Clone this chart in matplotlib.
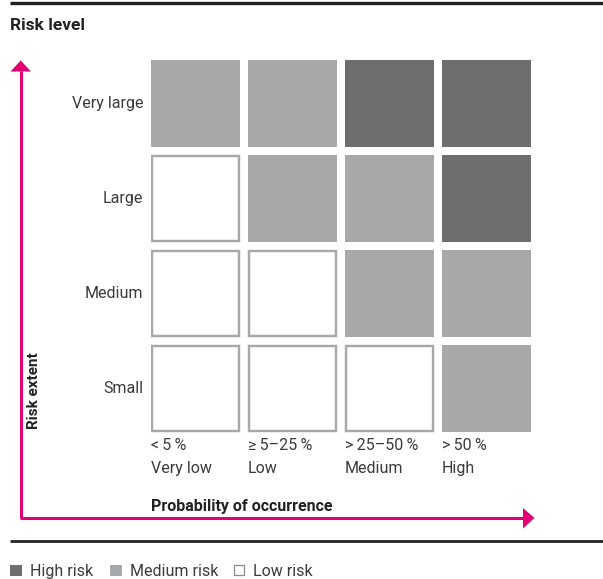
import matplotlib
matplotlib.use("Agg")
import matplotlib.pyplot as plt
from matplotlib.patches import Rectangle, Polygon
import numpy as np

plt.rcParams['font.family'] = ['Roboto', 'DejaVu Sans']

# ---- data ----
row_labels = ["Very large", "Large", "Medium", "Small"]
col_pct = ["<\u20095\u2009%", "≥\u20095–25\u2009%", ">\u200925–50\u2009%", ">\u200950\u2009%"]
col_names = ["Very low", "Low", "Medium", "High"]
# risk level per cell (rows top->bottom, cols left->right): 2=high,1=medium,0=low
risk = [
    [1, 1, 2, 2],
    [0, 1, 1, 2],
    [0, 0, 1, 1],
    [0, 0, 0, 1],
]
legend_labels = ["High risk", "Medium risk", "Low risk"]

HIGH = "#6d6e70"
MED = "#a7a8aa"
MAG = "#e20074"
TXT = "#3a3a3a"
FS = 11.5
WT = "normal"

W, H = 603, 579
fig = plt.figure(figsize=(W / 100, H / 100), dpi=100)

bg = fig.add_axes([0, 0, 1, 1])
bg.set_xlim(0, W)
bg.set_ylim(H, 0)
bg.axis("off")

pitch_x, pitch_y = 97, 95
gx0, gy0 = 151, 60
ax = fig.add_axes([gx0 / W, 1 - (gy0 + 4 * pitch_y) / H, 4 * pitch_x / W, 4 * pitch_y / H])
ax.set_xlim(0, 4)
ax.set_ylim(4, 0)
ax.axis("off")
cw = 89 / pitch_x
ch = 87 / pitch_y

colors = {2: HIGH, 1: MED}
for r, row in enumerate(risk):
    for c, v in enumerate(row):
        if v > 0:
            ax.add_patch(Rectangle((c, r), cw, ch, facecolor=colors[v], edgecolor="none"))
        else:
            dx = 1.2 / pitch_x
            dy = 1.2 / pitch_y
            ax.add_patch(Rectangle((c + dx, r + dy), cw - 2 * dx, ch - 2 * dy,
                                   facecolor="white", edgecolor=MED, linewidth=1.75))

for r, lab in enumerate(row_labels):
    ax.text(-8 / pitch_x, r + ch / 2, lab, ha="right", va="center",
            fontsize=FS, color=TXT, fontweight=WT)

base = gy0 + 4 * pitch_y
for c, (p, n) in enumerate(zip(col_pct, col_names)):
    ax.text(c, 4 + (445.5 - base) / pitch_y, p, ha="left",
            va="center", fontsize=FS, color=TXT, fontweight=WT)
    ax.text(c, 4 + (469 - base) / pitch_y, n, ha="left", va="center",
            fontsize=FS, color=TXT, fontweight=WT)

bg.text(10, 26, "Risk level", ha="left", va="center", fontsize=12.5, fontweight="bold", color="#222222")
bg.text(151, 506, "Probability of occurrence", ha="left", va="center", fontsize=11.5,
        fontweight="bold", color="#222222")
bg.text(34, 391, "Risk extent", ha="center", va="center", rotation=90, fontsize=11,
        fontweight="bold", color="#222222")

bg.plot([10, W], [3, 3], color="#222222", lw=2.4, solid_capstyle="butt")
bg.plot([10, W], [541, 541], color="#222222", lw=2.0, solid_capstyle="butt")

bg.plot([20.7, 20.7], [518, 71], color=MAG, lw=2.2, solid_capstyle="butt")
bg.plot([19.6, 524], [518, 518], color=MAG, lw=2.2, solid_capstyle="butt")
bg.add_patch(Polygon([[10.5, 71.5], [31, 71.5], [20.7, 60.5]], closed=True, facecolor=MAG, edgecolor="none"))
bg.add_patch(Polygon([[523, 508], [523, 528.5], [534.5, 518]], closed=True, facecolor=MAG, edgecolor="none"))

leg_x = [10, 110, 233]
leg_face = [HIGH, MED, "white"]
for x, lab, fc in zip(leg_x, legend_labels, leg_face):
    if fc == "white":
        bg.add_patch(Rectangle((x + 0.6, 565.1), 10.3, 10.3, facecolor="white", edgecolor="#8a8b8d", lw=0.9))
    else:
        bg.add_patch(Rectangle((x, 564.5), 11.5, 11.5, facecolor=fc, edgecolor="none"))
    bg.text(x + 20, 571.5, lab, ha="left", va="center", fontsize=FS, color=TXT, fontweight=WT)

fig.savefig("out.png", dpi=100)
